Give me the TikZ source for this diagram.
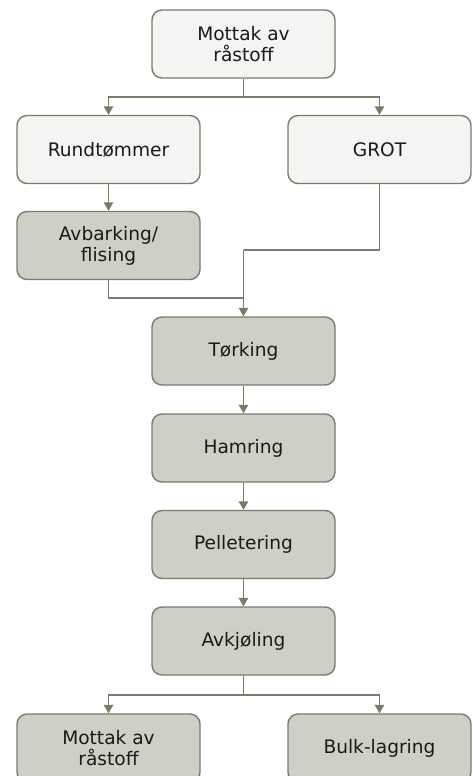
\documentclass[tikz,border=0pt]{standalone}
\usepackage{fontspec}
\setmainfont{DejaVu Sans}
\usetikzlibrary{arrows.meta}
\definecolor{lightfill}{HTML}{F5F4F2}
\definecolor{darkfill}{HTML}{CFCFC5}
\definecolor{edgecol}{HTML}{7B7B6B}
\definecolor{txtcol}{HTML}{1A1A1A}
\tikzset{
  box/.style={draw=edgecol, line width=1.4pt, rounded corners=10pt, minimum width=183pt, minimum height=68pt, align=center, inner sep=0pt, text=txtcol, font=\fontsize{18.6}{21}\selectfont},
  lightbox/.style={box, fill=lightfill},
  darkbox/.style={box, fill=darkfill},
  conn/.style={draw=edgecol, line width=1.5pt},
  arr/.style={conn, -{Triangle[length=8.5pt,width=9.5pt]}},
}
\begin{document}
\begin{tikzpicture}[x=1pt,y=-1pt]
\useasboundingbox (0,0) rectangle (472,776);
\clip (0,0) rectangle (472,776);
\node[lightbox] (top) at (243.5,44) {Mottak av\\råstoff};
\node[lightbox] (rund) at (108.5,149.5) {Rundtømmer};
\node[lightbox] (grot) at (379.5,149.5) {GROT};
\node[darkbox] (avb) at (108.5,245.5) {Avbarking/\\flising};
\node[darkbox] (tork) at (243.5,351) {Tørking};
\node[darkbox] (ham) at (243.5,448) {Hamring};
\node[darkbox] (pel) at (243.5,544.5) {Pelletering};
\node[darkbox] (avk) at (243.5,641) {Avkjøling};
\node[darkbox] (mot) at (108.5,748) {Mottak av\\råstoff};
\node[darkbox] (bulk) at (379.5,748) {Bulk-lagring};
\coordinate (j1) at (243.5,97);
\coordinate (j2) at (243.5,250);
\coordinate (j3) at (243.5,298);
\coordinate (j4) at (243.5,695);
\draw[conn] (top.south) -- (j1);
\draw[arr] (j1) -| (rund.north);
\draw[arr] (j1) -| (grot.north);
\draw[arr] (rund) -- (avb);
\draw[conn] (grot.south) |- (j2);
\draw[conn] (avb.south) |- (j3);
\draw[arr] (j2) -- (tork.north);
\draw[arr] (tork) -- (ham);
\draw[arr] (ham) -- (pel);
\draw[arr] (pel) -- (avk);
\draw[conn] (avk.south) -- (j4);
\draw[arr] (j4) -| (mot.north);
\draw[arr] (j4) -| (bulk.north);
\end{tikzpicture}
\end{document}
